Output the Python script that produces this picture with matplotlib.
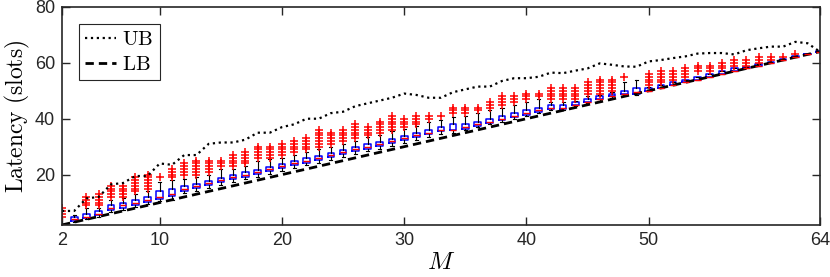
import matplotlib.pyplot as plt

plt.rcParams['mathtext.fontset'] = 'cm'
plt.rcParams['font.family'] = ['Liberation Sans', 'DejaVu Sans']

# number of devices
M = list(range(2, 65))

# box statistics per M
med = [2, 4, 5, 6, 8, 9, 10, 11, 12, 13,
       15, 16, 17, 18, 19, 20, 21, 22, 23, 24, 25, 26, 27, 28, 29, 30, 31, 32, 33, 34, 35,
       36, 36, 37, 38, 39, 40, 41, 42, 43, 44, 44,
       45, 46, 47, 48, 49, 49.5,
       50, 51, 52, 53, 54, 55, 56, 57, 58, 59, 60, 61, 62, 63, 64]
q1 = [2, 3.5, 4.5, 5.5, 7.2, 8.2, 9.2, 10.2, 11.2, 12.2,
      14.3, 15.3, 16.3, 17.3, 18.3, 19.3, 20.3, 21.3, 22.3, 23.3,
      24.3, 25.3, 26.3, 27.3, 28.3, 29.3, 30.3, 31.3, 32.3, 33.3,
      34.5, 35.5, 36, 36.5, 37.5, 38.5, 39.5, 40.5, 41.5, 42.5, 43.5, 43.5,
      45, 46, 47, 48, 49, 49,
      50, 51, 52, 53, 54, 55, 56, 57, 58, 59, 60, 61, 62, 63, 64]
q3 = [2, 5, 6, 7, 9, 10, 11, 12, 14, 15,
      15.8, 16.8, 17.8, 18.8, 19.8, 20.8, 21.8, 22.8, 23.8, 24.8,
      25.8, 26.8, 27.8, 28.8, 29.8, 30.8, 31.8, 32.8, 33.8, 34.8,
      36, 37, 38, 38, 39, 40, 41, 42, 43, 44, 45, 45,
      46, 47, 48, 49, 50, 51,
      51, 52, 53, 54, 55, 56, 57, 58, 58.5, 59.5, 60.3, 61.3, 62.3, 63.3, 64.3]
whislo = [2, 3, 4, 5, 6.5, 7.5, 8.5, 9.5, 10.5, 11,
          13.3, 14.3, 15.3, 16.3, 17.3, 18.3, 19.3, 20.3, 21.3, 22.3,
          23.3, 24.3, 25.3, 26.3, 27.3, 28.3, 29.3, 30.3, 31.3, 32.3,
          33.5, 34.5, 35, 36, 37, 38, 39, 40, 41, 42, 43, 43,
          44.5, 45.5, 46.5, 47.5, 48.5, 48.5,
          50, 51, 52, 53, 54, 55, 56, 57, 58, 59, 60, 61, 62, 63, 64]
whishi = [2, 5.5, 8, 8, 11, 11.5, 13, 14, 17.5, 18,
          18.5, 19, 20, 22, 22, 23, 25, 25.5, 26, 27,
          28, 29, 30, 31, 32, 33.5, 34, 35.5, 36.5, 37.5,
          39, 39.5, 40.5, 41, 42, 43, 44, 45, 46, 47, 46, 46,
          46.5, 48, 48.5, 49.5, 53, 54,
          51.5, 52, 53, 54, 55, 56, 57, 58, 58.5, 59.5, 60.3, 61.3, 62.3, 63.3, 64.3]
fliers = [[5, 6, 7, 8], [], [9, 10, 11, 12], [9, 10, 11, 12, 13],
          [12, 13, 14, 15, 16], [12, 13, 14, 15, 16], [14, 15, 16, 17, 18, 19],
          [15, 16, 17, 18, 19, 20], [19], [19, 20, 21, 22],
          [20, 21, 22, 23, 24], [20, 21, 22, 23, 24, 25], [21, 22, 23, 24, 25],
          [23, 24, 25], [23, 24, 25, 26, 27], [24, 25, 26, 27, 28],
          [26, 27, 28, 29, 30], [26, 27, 28, 29, 30], [27, 28, 29, 30, 31],
          [28, 29, 30, 31, 32], [29, 30, 31, 32, 33], [30, 31, 32, 33, 34, 35, 36],
          [31, 32, 33, 34, 35], [32, 33, 34, 35, 36], [33, 34, 35, 36, 37, 38],
          [34, 35, 36, 37], [35, 36, 37, 38, 39], [36, 37, 38, 39, 40, 41],
          [37, 38, 39, 40], [38, 39, 40, 41], [40, 41], [41],
          [42, 43, 44], [42, 43, 44], [43, 44], [44, 45, 46], [45, 46, 47, 48],
          [46, 47, 48], [47, 48, 49], [48, 49], [47, 48, 49, 50, 51],
          [47, 48, 49, 50, 51], [47, 48, 49, 50, 51], [49, 50, 51, 52, 53],
          [49, 50, 51, 52, 53, 54], [50, 51, 52, 53, 54], [55], [],
          [52, 53, 54, 55, 56], [53, 54, 55, 56, 57], [54, 55, 56, 57], [55, 56, 57, 58],
          [57, 58, 59], [57, 58, 59], [58, 59, 60], [59, 60, 61], [59, 60, 61],
          [60, 61, 62], [61, 62], [62], [63], [], []]

# bounds
UB = [7, 7, 11.5, 12, 16.5, 17, 19.5, 19.5, 24, 23.5,
      27, 27, 31, 31.5, 31.5, 32.5, 35, 35, 37, 38,
      40, 40, 42, 42.5, 44.5, 45.5, 46.5, 47.5, 49, 48.5,
      47.5, 47.5, 49.5, 50.5, 51.5, 51.5, 53.5, 54.5, 54.5, 55,
      56.5, 56.3, 57.2, 58, 59.8, 59.3, 58.7, 58.6, 60.5, 61,
      61.7, 62.3, 63.3, 63.5, 63.5, 63, 64.5, 65.2, 65.8, 65.8, 67.5, 67, 64]
LB = [2, 3, 4, 5, 6, 7, 8, 9, 10, 11, 12, 13, 14, 15, 16, 17, 18, 19, 20, 21,
      22, 23, 24, 25, 26, 27, 28, 29, 30, 31, 32, 33, 34, 35, 36, 37, 38, 39, 40, 41,
      42, 43, 44, 45, 46, 47, 48, 49, 50, 51, 52, 53, 54, 55, 56, 57, 58, 59, 60, 61,
      62, 63, 64]

xticks = [2, 10, 20, 30, 40, 50, 64]
yticks = [20, 40, 60, 80]

fig = plt.figure(figsize=(8.3, 2.77), dpi=100)
ax = fig.add_axes([0.0747, 0.188, 0.913, 0.787])

stats = [dict(med=med[i], q1=q1[i], q3=q3[i], whislo=whislo[i], whishi=whishi[i],
              fliers=fliers[i]) for i in range(len(M))]
ax.bxp(stats, positions=M, widths=0.55, capwidths=0.25, manage_ticks=False,
       boxprops=dict(color='blue', lw=1.1),
       medianprops=dict(color='red', lw=1.0),
       whiskerprops=dict(color='black', lw=0.8),
       capprops=dict(color='black', lw=0.8),
       flierprops=dict(marker='+', markeredgecolor='red', markersize=5.5, markeredgewidth=1.1))

ax.plot(M, UB, ':', color='black', lw=1.6, label=r'$\mathrm{UB}$')
ax.plot(M, LB, color='black', lw=2, dashes=(3, 1.8), label=r'$\mathrm{LB}$')

ax.set_xlim(2, 64)
ax.set_ylim(2, 80)
ax.set_xticks(xticks)
ax.set_yticks(yticks)
ax.tick_params(direction='in', top=True, right=True, length=6, width=1,
               labelsize=13, colors='#262626', pad=5)
for s in ax.spines.values():
    s.set_linewidth(1.2)
    s.set_color('#262626')

ax.set_xlabel(r'$M$', fontsize=18, labelpad=1)
ax.set_ylabel(r'$\mathrm{Latency\ (slots)}$', fontsize=17, labelpad=2)

leg = ax.legend(loc='upper left', fontsize=15, fancybox=False, framealpha=1,
                edgecolor='#262626', handlelength=1.5, handletextpad=0.3,
                borderpad=0.3, labelspacing=0.3, borderaxespad=0.8)
leg.get_frame().set_linewidth(0.8)

fig.savefig('out.png', dpi=100)
